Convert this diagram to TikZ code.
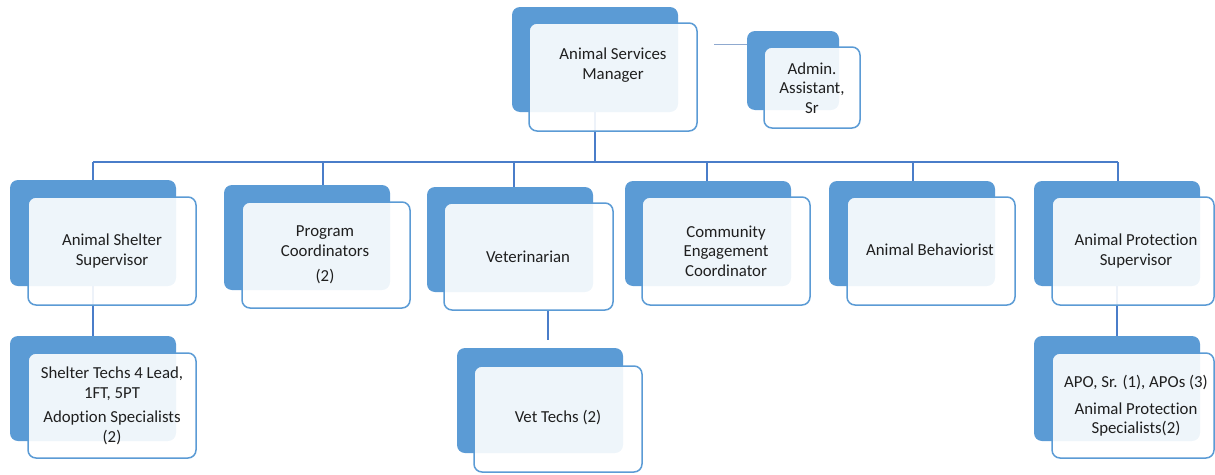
\documentclass[tikz,border=0pt]{standalone}
\usepackage{fontspec}
\setmainfont{Carlito}[Ligatures=NoCommon]
\usetikzlibrary{fit}
\definecolor{boxblue}{HTML}{5B9BD5}
\definecolor{linkblue}{HTML}{4A7DC9}
\definecolor{adminline}{HTML}{8FA9CF}
\definecolor{txt}{HTML}{1F1F1F}
\tikzset{
  backbox/.style={fill=boxblue, draw=none, rounded corners=8pt, inner sep=0pt},
  frontbox/.style={fill=white, fill opacity=0.9, draw=boxblue, draw opacity=1, line width=1.5pt, rounded corners=8pt, inner sep=0pt},
  lbl/.style={font=\fontsize{16.8}{19.5}\selectfont, align=center, text=txt, inner sep=0pt},
  link/.style={draw=linkblue, line width=1.5pt},
  adminlink/.style={draw=adminline, line width=1pt},
}
\begin{document}
\begin{tikzpicture}[x=1pt,y=-1pt]
\useasboundingbox (0,0) rectangle (1215,474);

% back boxes
\node[backbox, fit={(512,7) (678,112)}] (mgrB) {};
\node[backbox, fit={(747,31) (839,110)}] (admB) {};
\node[backbox, fit={(10,180) (176,286)}] (ssB) {};
\node[backbox, fit={(224,185) (390,290)}] (pcB) {};
\node[backbox, fit={(427,187) (593,292)}] (vetB) {};
\node[backbox, fit={(625,181) (791,286)}] (ceB) {};
\node[backbox, fit={(829,181) (995,286)}] (abB) {};
\node[backbox, fit={(1034,181) (1200,286)}] (apsB) {};
\node[backbox, fit={(10,336) (176,441)}] (stB) {};
\node[backbox, fit={(457,348) (623,453)}] (vtB) {};
\node[backbox, fit={(1034,336) (1200,441)}] (apoB) {};

% connectors (drawn beneath the front boxes)
\coordinate (busL) at (93,162);
\coordinate (busR) at (1118,162);
\coordinate (d2) at (323,162);
\coordinate (d3) at (514,162);
\coordinate (d4) at (707,162);
\coordinate (d5) at (913,162);
\coordinate (vtop) at (548,340);
\coordinate (adml) at (714,44);
\draw[link] (mgrB.south) -- (mgrB.south |- busL);
\draw[link] (busL) -- (busR);
\draw[link] (busL) -- (ssB.north);
\draw[link] (d2) -- (d2 |- pcB.north);
\draw[link] (d3) -- (d3 |- vetB.north);
\draw[link] (d4) -- (d4 |- ceB.north);
\draw[link] (d5) -- (d5 |- abB.north);
\draw[link] (busR) -- (busR |- apsB.north);
\draw[link] (ssB.south) -- (stB.north);
\draw[link] (apsB.south) -- (apoB.north);
\draw[adminlink] (adml) -- (adml -| admB.west);

% front boxes
\node[frontbox, fit={(529,23) (697,131)}] (mgrF) {};
\node[frontbox, fit={(764,47) (860,128)}] (admF) {};
\node[frontbox, fit={(28,197) (196,305)}] (ssF) {};
\node[frontbox, fit={(242,202) (410,308)}] (pcF) {};
\node[frontbox, fit={(444,203) (613,310)}] (vetF) {};
\node[frontbox, fit={(642,197) (810,305)}] (ceF) {};
\node[frontbox, fit={(847,197) (1015,305)}] (abF) {};
\node[frontbox, fit={(1052,197) (1214,305)}] (apsF) {};
\node[frontbox, fit={(28,353) (196,458)}] (stF) {};
\node[frontbox, fit={(474,366) (642,472)}] (vtF) {};
\node[frontbox, fit={(1052,353) (1214,458)}] (apoF) {};

\draw[link] (vtop |- vetF.south) -- (vtop);

% labels
\node[lbl] (mgrT) at (613,65) {Animal Services\\Manager};
\node[lbl] (admT) at (812,88) {Admin.\\Assistant,\\Sr};
\node[lbl] (ssT) at (112,251) {Animal Shelter\\Supervisor};
\node[lbl] (pcT) at (325,255) {Program\\Coordinators\\[6pt](2)};
\node[lbl] (vetT) at (528,257) {Veterinarian};
\node[lbl] (ceT) at (726,251) {Community\\Engagement\\Coordinator};
\node[lbl] (abT) at (930,250) {Animal Behaviorist};
\node[lbl] (apsT) at (1136,251) {Animal Protection\\Supervisor};
\node[lbl] (stT) at (112,406) {Shelter Techs 4 Lead,\\1FT, 5PT\\[5pt]Adoption Specialists\\(2)};
\node[lbl] (vtT) at (558,418) {Vet Techs (2)};
\node[lbl] (apoT) at (1136,406) {APO, Sr. (1), APOs (3)\\[7pt]Animal Protection\\Specialists(2)};
\end{tikzpicture}
\end{document}
